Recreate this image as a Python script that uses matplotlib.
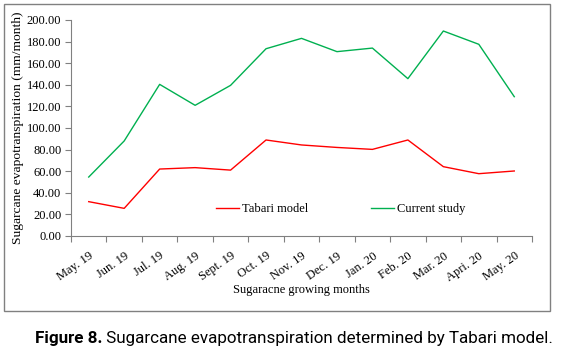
import matplotlib
matplotlib.use("Agg")
import matplotlib.pyplot as plt
from matplotlib.patches import Rectangle
from matplotlib.ticker import FixedLocator, NullFormatter

months = ["May. 19", "Jun. 19", "Jul. 19", "Aug. 19", "Sept. 19", "Oct. 19", "Nov. 19",
          "Dec. 19", "Jan. 20", "Feb. 20", "Mar. 20", "Apri. 20", "May. 20"]
tabari = [31.8, 25.6, 62.0, 63.3, 61.0, 88.9, 84.3, 82.0, 80.2, 88.9, 64.2, 57.7, 60.2]
current = [54.6, 88.0, 140.4, 121.0, 139.5, 173.4, 183.0, 170.7, 174.0, 145.7, 189.8, 177.5, 129.0]
yticks = [0, 20, 40, 60, 80, 100, 120, 140, 160, 180, 200]

W, H = 565, 355
fig = plt.figure(figsize=(W / 100, H / 100), dpi=100)
serif = "Liberation Serif"
fs = 9

# outer box
fig.patches.append(Rectangle((4 / W, 1 - 311 / H), (550 - 4) / W, (311 - 4) / H,
                             transform=fig.transFigure, fill=False, edgecolor="#808080", lw=1.0))

ax = fig.add_axes([71 / W, 1 - 236 / H, (532 - 71) / W, (236 - 20) / H])
x = list(range(len(months)))
ax.plot(x, tabari, color="#FF0000", lw=1.0, label="Tabari model")
ax.plot(x, current, color="#00B050", lw=1.0, label="Current study")

ax.set_xlim(-0.5, len(months) - 0.5)
ax.set_ylim(0, 200)
ax.set_yticks(yticks)
ax.set_yticklabels([f"{v:.2f}" for v in yticks], fontfamily=serif, fontsize=fs)
ax.xaxis.set_major_locator(FixedLocator([i - 0.5 for i in range(len(months) + 1)]))
ax.xaxis.set_major_formatter(NullFormatter())
ax.set_xticks(x, minor=True)
ax.set_xticklabels(months, minor=True, rotation=35, ha="right", rotation_mode="anchor",
                   fontfamily=serif, fontsize=fs)
ax.tick_params(axis="x", which="minor", length=0, pad=10)
ax.tick_params(axis="both", which="major", length=4, color="#808080", width=0.8)
ax.tick_params(axis="y", which="major", pad=3)

for s in ["top", "right"]:
    ax.spines[s].set_visible(False)
for s in ["left", "bottom"]:
    ax.spines[s].set_color("#808080")
    ax.spines[s].set_linewidth(0.8)

ax.set_ylabel("Sugarcane evapotranspiration (mm/month)", fontfamily=serif, fontsize=9.7, labelpad=2)
ax.set_xlabel("Sugaracne growing months", fontfamily=serif, fontsize=fs, labelpad=0)

ax.legend(loc="center left", bbox_to_anchor=((216 - 71) / (532 - 71), (236 - 209) / (236 - 20)),
          ncol=2, frameon=False, prop={"family": serif, "size": fs},
          handlelength=1.85, handletextpad=0.25, columnspacing=5.0, borderaxespad=0, borderpad=0)

cap_font = "Roboto"
cap_y = 1 - 338 / H
cfs = 11
t1 = fig.text(0, cap_y, "Figure 8.", fontfamily=cap_font, fontweight="bold",
              fontsize=cfs, va="center", ha="left")
t2 = fig.text(0, cap_y, " Sugarcane evapotranspiration determined by Tabari model.",
              fontfamily=cap_font, fontsize=cfs, va="center", ha="left")
fig.canvas.draw()
r = fig.canvas.get_renderer()
w = t1.get_window_extent(r).width + t2.get_window_extent(r).width
scale = 518 / w
cfs2 = cfs * scale
t1.set_fontsize(cfs2)
t2.set_fontsize(cfs2)
fig.canvas.draw()
w1 = t1.get_window_extent(r).width
w2 = t2.get_window_extent(r).width
x0 = 294 - (w1 + w2) / 2
t1.set_x(x0 / W)
t2.set_x((x0 + w1) / W)

fig.savefig("out.png", dpi=100)
